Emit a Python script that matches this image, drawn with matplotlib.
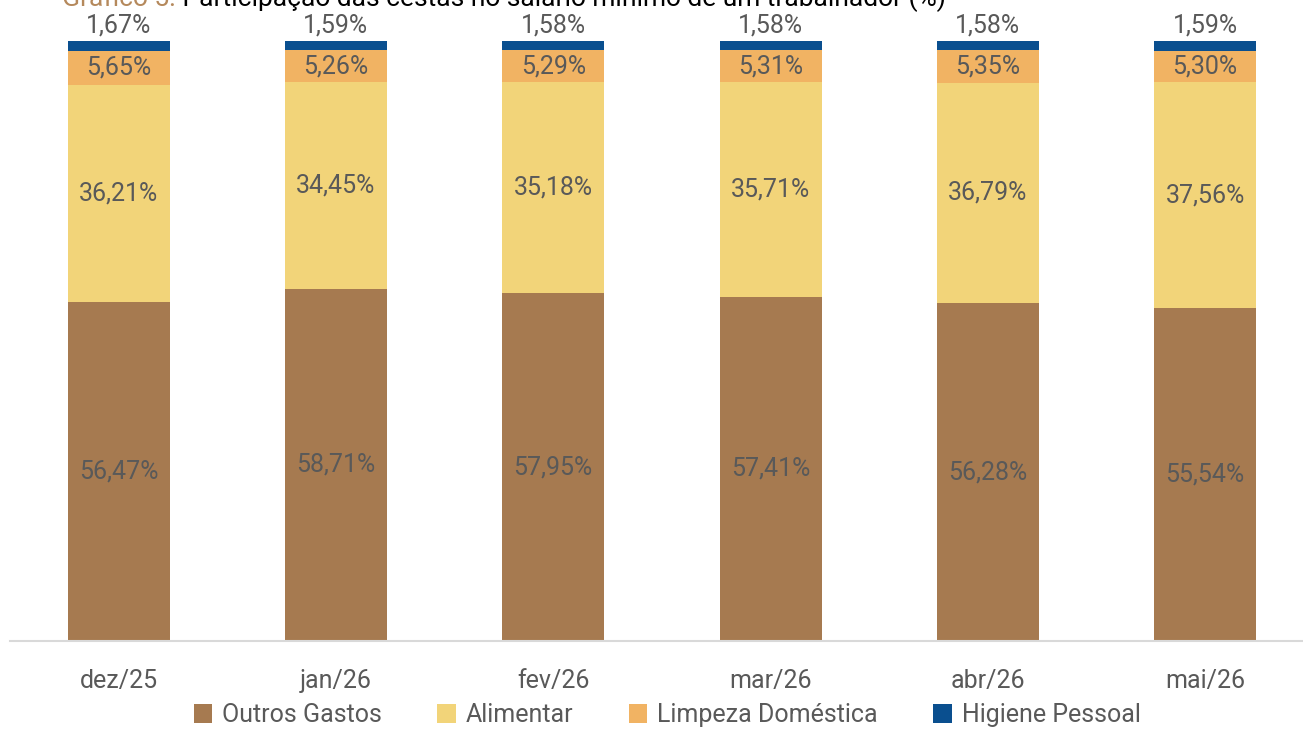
"""Participação das cestas no salário mínimo de um trabalhador (%)."""

import matplotlib

matplotlib.use("Agg")
import matplotlib.pyplot as plt
import numpy as np

plt.rcParams["font.family"] = ["Roboto", "DejaVu Sans"]

meses = ["dez/25", "jan/26", "fev/26", "mar/26", "abr/26", "mai/26"]
outros = [56.47, 58.71, 57.95, 57.41, 56.28, 55.54]
alimentar = [36.21, 34.45, 35.18, 35.71, 36.79, 37.56]
limpeza = [5.65, 5.26, 5.29, 5.31, 5.35, 5.30]
higiene = [1.67, 1.59, 1.58, 1.58, 1.58, 1.59]

series = [
    ("Outros Gastos", outros, "#a67a50"),
    ("Alimentar", alimentar, "#f2d479"),
    ("Limpeza Doméstica", limpeza, "#f1b363"),
    ("Higiene Pessoal", higiene, "#0a4f8f"),
]

COR_TEXTO = "#595959"
TAM = 18
PESO = "normal"


def fmt(v):
    return f"{v:.2f}%".replace(".", ",")


fig = plt.figure(figsize=(13.03, 7.29), dpi=100)
ax = fig.add_axes([10 / 1303, 88 / 729, 1293 / 1303, 600 / 729])

x = np.arange(len(meses))
base = np.zeros(len(meses))
for nome, valores, cor in series:
    valores = np.array(valores)
    ax.bar(x, valores, 0.47, bottom=base, color=cor, label=nome)
    if nome == "Higiene Pessoal":
        # rótulo da última fatia fica acima da barra
        for xi, topo, v in zip(x, base + valores, valores):
            ax.text(xi, topo + 0.6, fmt(v), ha="center", va="bottom",
                    fontsize=TAM, color=COR_TEXTO, fontweight=PESO)
    else:
        for xi, b, v in zip(x, base, valores):
            ax.text(xi, b + v / 2, fmt(v), ha="center", va="center",
                    fontsize=TAM, color=COR_TEXTO, fontweight=PESO)
    base = base + valores

ax.set_xlim(-0.5, 5.45)
ax.set_ylim(0, 100)
ax.set_yticks([])
ax.set_xticks(x)
ax.set_xticklabels(meses, fontsize=TAM, color=COR_TEXTO, fontweight=PESO)
ax.tick_params(axis="x", length=0, pad=20)
for lado in ["top", "right", "left"]:
    ax.spines[lado].set_visible(False)
ax.spines["bottom"].set_color("#d9d9d9")
ax.spines["bottom"].set_linewidth(1.5)

leg = fig.legend(loc="center", bbox_to_anchor=(0.512, 0.019), ncol=4,
                 frameon=False, fontsize=TAM, handlelength=0.75,
                 handleheight=0.75, handletextpad=0.4, columnspacing=2.2)
for t in leg.get_texts():
    t.set_color(COR_TEXTO)
    t.set_fontweight(PESO)

# título cortado no topo, como na imagem original
t1 = fig.text(62 / 1303, 1 - 6 / 729, "Gráfico 5:", fontsize=19,
              color="#b5895c", va="baseline", ha="left")
t2 = fig.text(0, 1 - 6 / 729,
              " Participação das cestas no salário mínimo de um trabalhador (%)",
              fontsize=19, color="black", va="baseline", ha="left")
fig.canvas.draw()
bb = t1.get_window_extent()
t2.set_x(bb.x1 / fig.bbox.width)

fig.savefig("out.png", dpi=100)
